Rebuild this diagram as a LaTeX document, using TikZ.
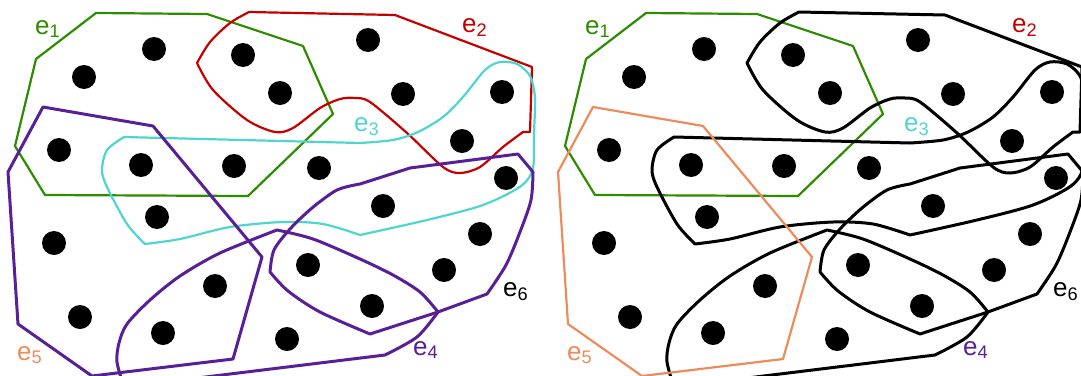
\documentclass[tikz,border=0pt]{standalone}
\usepackage{fontspec}
\setmainfont{Liberation Sans}
\usepackage{xcolor}

\definecolor{egreen}{RGB}{45,140,0}
\definecolor{ered}{RGB}{196,0,0}
\definecolor{ecyan}{RGB}{78,214,206}
\definecolor{epurple}{RGB}{88,32,150}
\definecolor{eorange}{RGB}{236,140,92}

\newcommand{\elab}[1]{e\textsubscript{#1}}

\begin{document}
\begin{tikzpicture}[x=1pt, y=-1pt, line join=round,
    vertex/.style={circle, fill=black, inner sep=0pt, minimum size=24pt},
    edgelabel/.style={inner sep=0pt, anchor=base west, font=\fontsize{26}{26}\selectfont},
    greenline/.style={draw=egreen, line width=2.2pt},
    redline/.style={draw=ered, line width=2.2pt},
    cyanline/.style={draw=ecyan, line width=2.2pt},
    purpleline/.style={draw=epurple, line width=3pt},
    orangeline/.style={draw=eorange, line width=2.2pt},
    blackline/.style={draw=black, line width=3pt}]
\useasboundingbox (0,0) rectangle (1081,375);
\clip (0,0) rectangle (1081,375);

\foreach \px/\stwo/\sthree/\sfour/\sfive/\ssix in {0/redline/cyanline/purpleline/purpleline/purpleline, 550/blackline/blackline/blackline/orangeline/blackline}{
\begin{scope}[xshift=\px]
    % e1
    \draw[greenline] (36,59) -- (96,13) -- (207,14) -- (303,46) -- (333,114)
        -- (248,196) -- (45,195) -- (15,146) -- cycle;
    % e2
    \draw[\stwo] (249,12) -- (395,15) -- (532,67) -- (530,132) -- (523,132)
        -- plot[smooth] coordinates {(523,132) (503,147) (480,167) (460,173) (443,167) (407,133) (370,102) (355,98) (340,99) (320,108) (293,128) (275,132) (247,120) (213,90) (197,63)}
        -- plot[smooth] coordinates {(197,63) (210,42) (230,23) (249,12)} -- cycle;
    % e3
    \draw[\sthree] (124,137) -- (360,143)
        -- plot[smooth] coordinates {(360,143) (393,140) (418,132) (443,117) (463,97) (485,70) (500,62) (517,64) (530,76) (535,98) (534,133) (533,168) (521,186) (483,205) (427,220) (360,235)}
        -- plot[smooth] coordinates {(360,235) (323,224) (283,222) (230,227) (180,239) (145,244)}
        -- plot[smooth] coordinates {(145,244) (127,224) (107,187) (102,170) (107,150) (124,137)} -- cycle;
    % e4
    \draw[\sfour] (385,355) -- (124,387)
        -- plot[smooth] coordinates {(124,387) (117,362) (119,343) (127,324) (150,300) (180,276) (220,253) (277,230)}
        -- plot[smooth] coordinates {(277,230) (313,239) (360,259) (393,275) (420,292) (438,312)}
        -- plot[smooth] coordinates {(438,312) (417,337) (385,355)} -- cycle;
    % e5
    \draw[\sfive] (43,107) -- (153,126) -- (262,257) -- (233,359) -- (92,376)
        -- (18,324) -- (8,172) -- cycle;
    % e6
    \draw[\ssix] (360,184) -- (410,168) -- (518,154) -- (533,172)
        -- plot[smooth] coordinates {(533,172) (531,200) (520,232) (506,265) (487,294)}
        -- (438,312) -- (370,334)
        -- plot[smooth] coordinates {(370,334) (320,312) (288,291) (270,272)}
        -- plot[smooth] coordinates {(270,272) (274,250) (290,229) (312,208) (337,190) (360,184)} -- cycle;

    % vertices
    \foreach \x/\y [count=\i] in {154/49, 84/77, 243/55, 280/93, 368/40, 403/94,
        502/92, 462/141, 59/150, 141/165, 234/166, 319/168, 506/178, 383/206,
        157/217, 54/243, 480/234, 308/265, 444/270, 215/286, 80/317, 372/306,
        163/333, 287/339}
        \node[vertex] (v\px-\i) at (\x,\y) {};

    % labels
    \node[edgelabel, text=egreen] (l\px-1) at (35,34) {\elab{1}};
    \node[edgelabel, text=ered] (l\px-2) at (462,32) {\elab{2}};
    \node[edgelabel, text=ecyan] (l\px-3) at (354,131) {\elab{3}};
    \node[edgelabel, text=epurple] (l\px-4) at (413,355) {\elab{4}};
    \node[edgelabel, text=eorange] (l\px-5) at (17,360) {\elab{5}};
    \node[edgelabel, text=black] (l\px-6) at (503,296) {\elab{6}};
\end{scope}
}
\end{tikzpicture}
\end{document}
